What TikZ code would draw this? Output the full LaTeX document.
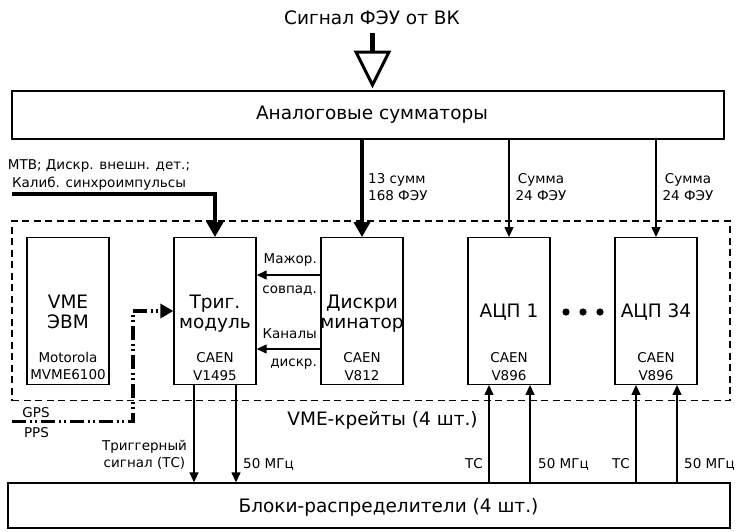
\documentclass[tikz,border=0pt]{standalone}
\usepackage{fontspec}
\setmainfont{DejaVu Sans}
\usetikzlibrary{arrows.meta}
\begin{document}
\begin{tikzpicture}[x=1pt,y=-1pt,
  font=\fontsize{18.5}{20}\selectfont,
  blk/.style={draw,line width=1.3pt,minimum width=82pt,minimum height=146.6pt,inner sep=0pt},
  bigt/.style={inner sep=0pt,align=center,font=\fontsize{18.5}{20}\selectfont},
  small/.style={inner sep=0pt,align=center,font=\fontsize{13.5}{17.5}\selectfont},
  thinarr/.style={line width=1.3pt,-{Triangle[length=10pt,width=9pt]}},
  thickarr/.style={line width=4.5pt,-{Triangle[length=15pt,width=16pt]}},
  gps/.style={line width=3.5pt,dash pattern=on 14pt off 4pt on 2pt off 3pt on 2pt off 4pt,-{Triangle[length=13pt,width=14pt]}},
  crate/.style={draw,line width=1.3pt,dash pattern=on 7pt off 4.5pt,inner sep=0pt}
]
\useasboundingbox (0,0) rectangle (736,531);

% title and input symbol
\node[bigt] (title) at (372,18) {Сигнал ФЭУ от ВК};
\coordinate (in0) at (372.5,33);
\coordinate (in1) at (372.5,52);
\draw[line width=4.5pt] (in0) -- (in1);
\draw[line width=3pt,line join=miter] (356,52) -- (389,52) -- (372.5,85) -- cycle;

% top box
\node[draw,line width=1.3pt,minimum width=712pt,minimum height=48pt,inner sep=0pt] (sum) at (368,115) {};
\node[bigt] (sumt) at (372,115) {Аналоговые сумматоры};

% crate dashed box
\node[crate,minimum width=718pt,minimum height=179.7pt] (crate) at (371,310.85) {};
\node[bigt] (cratet) at (382.5,420) {VME-крейты (4 шт.)};

% blocks
\node[blk] (vme) at (68,311) {};
\node[blk] (trig) at (215,311) {};
\node[blk] (disc) at (362,311) {};
\node[blk] (adc1) at (509,311) {};
\node[blk] (adc34) at (656,311) {};

\node[bigt] (vmet) at (68,312) {VME\\ЭВМ};
\node[small] (vmes) at (68,366) {Motorola\\MVME6100};
\node[bigt] (trigt) at (215,313.5) {Триг.\\модуль};
\node[small] (trigs) at (215,366.5) {CAEN\\V1495};
\node[bigt] (disct) at (362,313.5) {Дискри\\минатор};
\node[small] (discs) at (362,366.5) {CAEN\\V812};
\node[bigt] (adc1t) at (509,312) {АЦП 1};
\node[small] (adc1s) at (509,366.5) {CAEN\\V896};
\node[bigt] (adc34t) at (656,312) {АЦП 34};
\node[small] (adc34s) at (656,366.5) {CAEN\\V896};

\fill (566,312) circle[radius=3.6pt];
\fill (583,312) circle[radius=3.6pt];
\fill (600,312) circle[radius=3.6pt];

% bottom box
\node[draw,line width=1.3pt,minimum width=722pt,minimum height=45pt,inner sep=0pt] (bot) at (369,505.5) {};
\node[bigt] (bott) at (388.5,507) {Блоки-распределители (4 шт.)};

% inputs from top box
\draw[thickarr] (sum.south -| disc.north) -- (disc.north);
\draw[thinarr] (sum.south -| adc1.north) -- (adc1.north);
\draw[thinarr] (sum.south -| adc34.north) -- (adc34.north);
\node[small,align=left,anchor=west] (l13) at (368,187) {13 сумм\\168 ФЭУ};
\node[small] (ls1) at (541,187) {Сумма\\24 ФЭУ};
\node[small] (ls2) at (688,187) {Сумма\\24 ФЭУ};

% external signals
\coordinate (mtb) at (12,194);
\draw[thickarr,line join=miter] (mtb) -| (trig.north);
\node[small] (mtbt) at (99,175) {МТВ; Дискр. внешн. дет.;\\Калиб. синхроимпульсы};

% discriminator to trigger
\coordinate (ya) at (0,275);
\coordinate (yb) at (0,349);
\draw[thinarr] (disc.west |- ya) -- (trig.east |- ya);
\draw[thinarr] (disc.west |- yb) -- (trig.east |- yb);
\node[small,anchor=east] (lmaj) at (317,260) {Мажор.};
\node[small,anchor=east] (lsov) at (317,291) {совпад.};
\node[small,anchor=east] (lkan) at (317,334) {Каналы};
\node[small,anchor=east] (ldis) at (317,364) {дискр.};

% GPS
\coordinate (gps0) at (12,421.7);
\coordinate (gpsc) at (133,421.7);
\draw[gps] (gps0) -- (gpsc) |- (trig.west);
\node[small] (lgps) at (36,413) {GPS};
\node[small] (lpps) at (36.5,433) {PPS};

% trigger to distributors
\coordinate (xa) at (194,0);
\coordinate (xb) at (236,0);
\draw[thinarr] (trig.south -| xa) -- (bot.north -| xa);
\draw[thinarr] (trig.south -| xb) -- (bot.north -| xb);
\node[small] (ltrg) at (144.5,455) {Триггерный\\сигнал (ТС)};
\node[small,anchor=west] (l50a) at (243,464) {50 МГц};

% distributors to ADCs
\coordinate (xc) at (489,0);
\coordinate (xd) at (530,0);
\coordinate (xe) at (636,0);
\coordinate (xf) at (677,0);
\draw[thinarr] (bot.north -| xc) -- (adc1.south -| xc);
\draw[thinarr] (bot.north -| xd) -- (adc1.south -| xd);
\draw[thinarr] (bot.north -| xe) -- (adc34.south -| xe);
\draw[thinarr] (bot.north -| xf) -- (adc34.south -| xf);
\node[small,anchor=east] (ltc1) at (483,464) {ТС};
\node[small,anchor=west] (l50b) at (538,464) {50 МГц};
\node[small,anchor=east] (ltc2) at (630,464) {ТС};
\node[small,anchor=west] (l50c) at (684,464) {50 МГц};
\end{tikzpicture}
\end{document}
